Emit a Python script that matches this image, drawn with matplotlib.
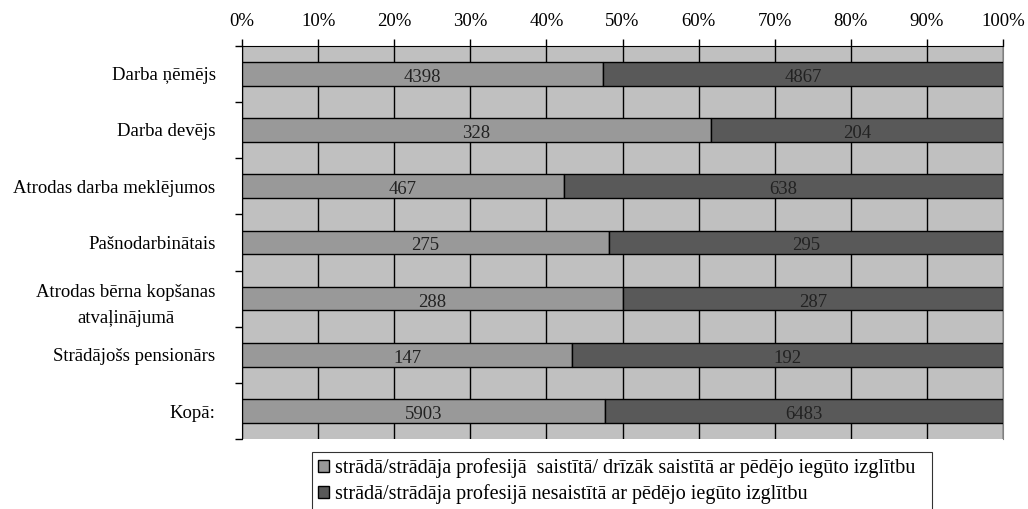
import numpy as np
import matplotlib
matplotlib.use("Agg")
import matplotlib.pyplot as plt
import matplotlib.ticker as mtick

plt.rcParams['font.family'] = ['Liberation Serif', 'DejaVu Serif']

# === dati ===
categories = ['Darba ņēmējs', 'Darba devējs', 'Atrodas darba meklējumos',
              'Pašnodarbinātais', 'Atrodas bērna kopšanas\natvaļinājumā',
              'Strādājošs pensionārs', 'Kopā:']
related = [4398, 328, 467, 275, 288, 147, 5903]
unrelated = [4867, 204, 638, 295, 287, 192, 6483]
series_names = ['strādā/strādāja profesijā  saistītā/ drīzāk saistītā ar pēdējo iegūto izglītbu',
                'strādā/strādāja profesijā nesaistītā ar pēdējo iegūto izglītbu']

rel = np.array(related, dtype=float)
unr = np.array(unrelated, dtype=float)
tot = rel + unr
rel_pct = rel / tot * 100
unr_pct = unr / tot * 100

c_light = '#999999'
c_dark = '#595959'
fs = 13.5

fig = plt.figure(figsize=(10.28, 5.09), dpi=100)
ax = fig.add_axes([0.2354, 0.137, 0.7403, 0.7734])
ax.set_facecolor('#C0C0C0')

y = np.arange(len(categories))
h = 0.42
b1 = ax.barh(y, rel_pct, height=h, color=c_light, edgecolor='black', linewidth=1,
             label=series_names[0], zorder=3)
b2 = ax.barh(y, unr_pct, left=rel_pct, height=h, color=c_dark, edgecolor='black',
             linewidth=1, label=series_names[1], zorder=3)
lab1 = ax.bar_label(b1, labels=[str(v) for v in related], label_type='center', fontsize=fs, color='#222222')
lab2 = ax.bar_label(b2, labels=[str(v) for v in unrelated], label_type='center', fontsize=fs, color='#222222')
for t in list(lab1) + list(lab2):
    t.xyann = (0, -2.5)  # Excel puts the numbers a bit low

ax.set_xlim(0, 100)
ax.set_ylim(len(categories) - 0.5, -0.5)
ax.xaxis.set_major_locator(mtick.MultipleLocator(10))
ax.xaxis.set_major_formatter(mtick.FuncFormatter(lambda v, _: f'{v:.0f}%'))
ax.xaxis.tick_top()
ax.tick_params(axis='x', direction='out', length=5, width=1, labelsize=fs, pad=6)
ax.grid(axis='x', color='black', linewidth=1, zorder=1)
ax.set_axisbelow(True)

ax.set_yticks(y)
ax.set_yticklabels(categories, fontsize=fs)
for t in ax.get_yticklabels():
    t.set_horizontalalignment('right')
    t.set_multialignment('center')
    t.set_linespacing(1.7)
ax.tick_params(axis='y', length=0, pad=19)
ax.set_yticks(np.arange(-0.5, len(categories)), minor=True)
ax.tick_params(axis='y', which='minor', length=5, width=1, direction='out')

for s in ['left', 'top']:
    ax.spines[s].set_color('black')
ax.spines['right'].set_color('#808080')
ax.spines['bottom'].set_visible(False)

leg = fig.legend(handles=[b1, b2], loc='upper left',
                 bbox_to_anchor=(312 / 1028, 0, 620 / 1028, 1 - 452 / 509), mode='expand',
                 borderaxespad=0, frameon=True, fontsize=14.5, handlelength=0.55,
                 handleheight=0.55, handletextpad=0.3, borderpad=0.3, labelspacing=0.3,
                 fancybox=False, edgecolor='black')
leg.get_frame().set_linewidth(0.8)

fig.savefig('out.png', dpi=100)
